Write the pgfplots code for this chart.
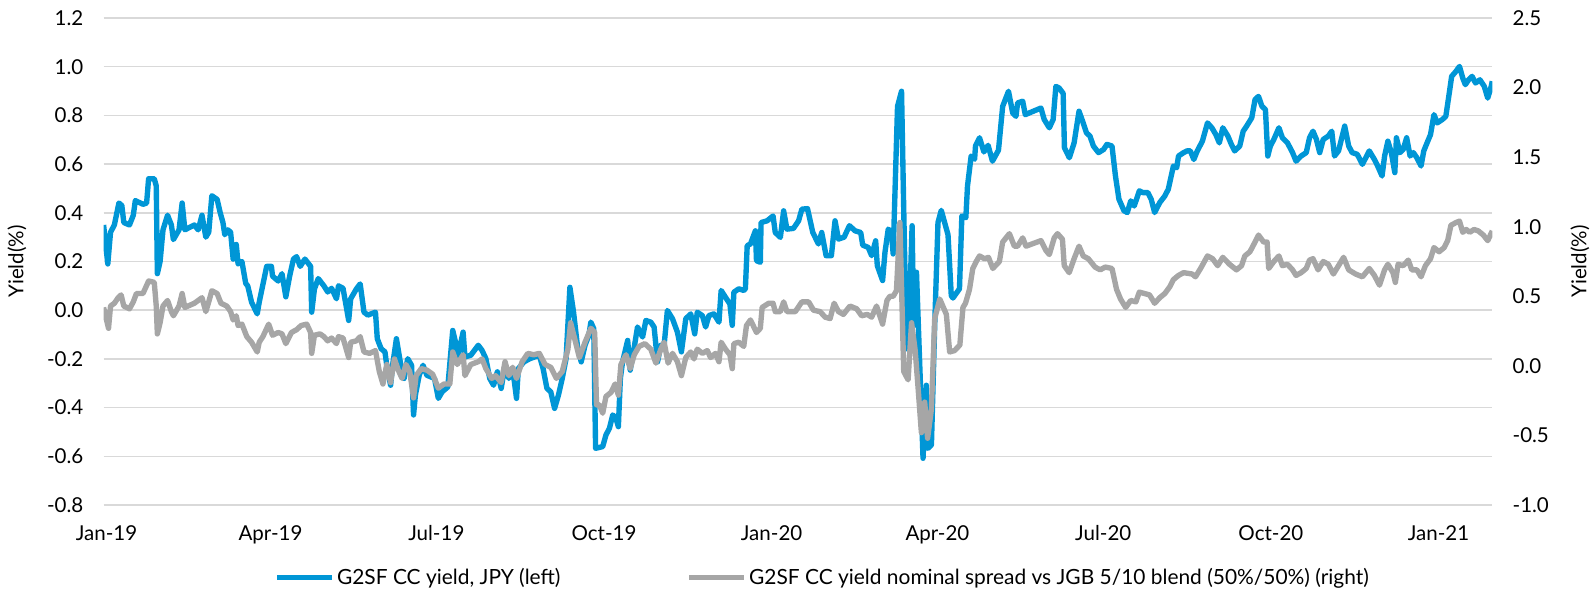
\documentclass[border=0pt]{standalone}
\usepackage{fontspec}
\setmainfont{Lato}
\usepackage{pgfplots}
\usepackage{pgfplotstable}
\pgfplotsset{compat=1.18}

\definecolor{g2blue}{RGB}{0,150,214}
\definecolor{g2gray}{RGB}{166,166,166}
\definecolor{gridgray}{RGB}{217,217,217}

% x = days since 1 Jan 2019
\pgfplotstableread{
day val
-1.6 0.35
0.7 0.19
2.2 0.32
4.3 0.35
6.8 0.44
8.4 0.43
9.5 0.36
12.6 0.35
14.7 0.39
15.8 0.45
20 0.435
22 0.44
23.1 0.54
26.2 0.54
27.3 0.51
27.9 0.15
29.4 0.20
31 0.33
33.5 0.39
35.6 0.35
36.7 0.29
39.8 0.33
41.5 0.44
43 0.33
48.2 0.35
50.3 0.33
52.4 0.39
54.5 0.30
56.1 0.32
57.8 0.47
60.7 0.455
62.4 0.40
63.9 0.36
64.9 0.31
66.6 0.33
68.1 0.32
69.5 0.21
71.2 0.27
72.2 0.19
74.3 0.20
76.4 0.11
77.5 0.10
79.6 0.033
82.7 -0.015
83.8 0.033
87.9 0.18
90.5 0.18
91.1 0.14
94.2 0.12
96.3 0.15
98.4 0.055
100.5 0.14
102.6 0.21
104.3 0.22
106.3 0.18
108.9 0.21
112 0.18
112.6 -0.008
114.1 0.087
116.2 0.13
119.3 0.10
121.4 0.075
123.5 0.09
126.2 0.047
127.3 0.10
129.8 0.09
132.9 -0.042
134 0.047
137.1 0.087
139.2 0.108
141.3 -0.008
143.4 -0.02
147.6 -0.008
148.6 -0.117
150.7 -0.158
152.8 -0.171
153.8 -0.226
155.9 -0.308
157 -0.226
159.1 -0.117
161.2 -0.212
163.3 -0.28
165.3 -0.199
167.4 -0.226
168.5 -0.43
169.5 -0.349
171.6 -0.267
173.7 -0.226
175.8 -0.267
180 -0.28
182.1 -0.362
184.2 -0.335
187.3 -0.315
190 -0.083
191.5 -0.13
192.5 -0.199
195.7 -0.09
196.7 -0.192
199.9 -0.185
204 -0.144
206.1 -0.165
208.2 -0.199
210.3 -0.28
212.4 -0.308
214.5 -0.253
216.6 -0.321
218.7 -0.226
220.8 -0.28
222.9 -0.24
225 -0.362
226 -0.24
229.1 -0.212
232.3 -0.199
237.5 -0.185
239.6 -0.24
241.7 -0.321
243.8 -0.335
245.9 -0.403
248 -0.349
250.1 -0.28
252.2 -0.199
254.3 0.094
256.3 -0.008
258.4 -0.144
260.5 -0.212
262.6 -0.144
264.7 -0.103
265.8 -0.049
267.4 -0.076
268.4 -0.567
272.3 -0.56
274.1 -0.512
276 -0.485
277.8 -0.43
279.6 -0.444
280.9 -0.478
282 -0.28
283.2 -0.212
286 -0.124
287.4 -0.246
289.2 -0.171
291.4 -0.069
294.2 -0.11
296 -0.042
298.7 -0.049
300.5 -0.069
302.4 -0.212
304.2 -0.144
306 -0.144
307.8 -0.001
310.6 -0.035
313.3 -0.09
315.5 -0.171
317.9 -0.035
320.6 -0.015
322.8 -0.097
324.2 -0.008
327 -0.022
328.8 -0.069
330.6 -0.022
333.3 -0.015
336.1 -0.049
337.3 0.081
339.7 0.053
342.1 0.026
343.4 -0.062
344.3 0.074
347 0.088
349.7 0.081
350.6 0.088
351.6 0.265
353.4 0.272
356.1 0.326
356.7 0.203
358.8 0.197
359.2 0.36
362.5 0.367
365.8 0.387
367 0.319
369.8 0.299
371.6 0.408
373.4 0.333
377 0.336
379.8 0.367
381.6 0.415
384.7 0.417
387.6 0.319
390.7 0.272
392.5 0.319
394.9 0.224
397.8 0.224
399.8 0.367
401.7 0.292
404.8 0.30
407.7 0.347
410.8 0.326
413.9 0.319
415 0.267
418 0.258
419.9 0.224
422.1 0.285
423 0.183
425.9 0.122
427.2 0.237
429 0.333
430.8 0.319
431.7 0.231
434.1 0.837
436.3 0.899
437.5 0.415
439 -0.158
440.5 -0.035
442.1 0.347
443 -0.062
444.5 0.156
448.1 -0.608
449.9 -0.308
450.8 -0.567
452.7 -0.553
454.5 -0.062
456.3 0.36
458.1 0.41
461.8 0.31
463.6 0.06
464.5 0.05
468.1 0.088
469.4 0.387
471.6 0.38
472.5 0.51
474.5 0.633
476.4 0.62
476.9 0.675
479.1 0.708
481.5 0.65
483.8 0.677
486.2 0.612
489.5 0.657
491.8 0.837
495 0.899
497.3 0.81
499.1 0.796
500 0.851
502.8 0.858
504.2 0.803
506.4 0.81
512.8 0.83
514.6 0.783
517.4 0.749
519.5 0.783
521 0.919
522.8 0.912
525 0.89
525.7 0.667
528.4 0.626
531 0.687
533.7 0.817
536 0.769
537.8 0.728
539.7 0.715
541.6 0.674
544.4 0.647
547.2 0.66
549 0.681
551.8 0.674
553.7 0.551
555.6 0.456
558.4 0.408
560.2 0.401
562.1 0.449
564 0.428
566.8 0.49
568.7 0.483
571.5 0.483
573.3 0.456
575.2 0.401
578 0.442
580.8 0.469
582.7 0.497
585.5 0.592
587.3 0.585
588.3 0.633
591.1 0.647
592.9 0.654
594.8 0.654
596.7 0.619
598.6 0.654
601.4 0.694
604.2 0.769
606.6 0.749
608.8 0.721
610.7 0.687
612.6 0.749
615.4 0.715
617.3 0.681
619.1 0.654
621.9 0.674
623.8 0.735
625.7 0.756
628.5 0.79
630.3 0.865
632.2 0.878
634.1 0.837
636 0.824
637.3 0.633
638.7 0.674
640.6 0.701
643.4 0.749
645.3 0.708
648.1 0.687
650.9 0.647
652.8 0.612
655.6 0.633
658.4 0.647
660.2 0.708
662.1 0.735
664 0.701
665.8 0.647
667.7 0.701
670.5 0.715
672.4 0.735
673.9 0.633
676.1 0.654
679.5 0.756
681.7 0.674
683.6 0.647
686.4 0.64
689.2 0.599
693 0.654
695.8 0.619
697.6 0.592
700 0.551
701.4 0.633
703.2 0.694
705.1 0.647
707 0.565
707.9 0.708
709.8 0.647
711.6 0.66
713.5 0.708
715.4 0.633
717.2 0.647
719.1 0.626
721.4 0.592
722.9 0.654
724.7 0.687
726.6 0.721
728.5 0.803
730.3 0.769
733.1 0.783
735 0.796
736.9 0.892
738.2 0.96
740.6 0.981
742.5 1.001
744.3 0.953
745.7 0.926
747.5 0.946
749.4 0.96
751.3 0.933
753.7 0.946
756.1 0.919
758 0.871
759.9 0.919
760.5 0.94
}\yielddata

\pgfplotstableread{
day val
-1.6 0.42
1.1 0.27
2.2 0.43
4.3 0.45
6.4 0.49
8 0.51
9.5 0.43
12.6 0.41
14.7 0.46
16.4 0.52
20 0.52
23.1 0.61
26.2 0.60
27.3 0.43
27.9 0.23
29.4 0.31
31 0.43
33.5 0.47
35.6 0.39
36.7 0.36
39.8 0.43
41.5 0.52
43 0.42
48.2 0.45
52.4 0.49
54.5 0.39
56.1 0.46
57.8 0.54
60.7 0.52
62.8 0.45
66 0.43
68.1 0.39
69.5 0.33
71.2 0.36
72.2 0.29
74.3 0.30
77 0.21
79.6 0.17
82.7 0.10
83.8 0.17
85.8 0.21
89 0.30
91.1 0.22
94.2 0.24
96.3 0.23
98.4 0.16
101.5 0.24
104.3 0.26
106.8 0.29
109.9 0.30
112 0.24
112.6 0.09
114.1 0.22
117.2 0.23
119.3 0.21
121.4 0.18
123.5 0.20
126.2 0.16
127.3 0.21
129.8 0.20
132.9 0.06
134 0.17
137.1 0.18
139.2 0.21
141.3 0.10
144.4 0.09
147.6 0.11
149.7 -0.04
151.7 -0.13
153.8 0.01
155.9 -0.12
158 0.05
160.1 -0.03
162.2 -0.09
164.3 0.01
166.4 -0.04
168.5 -0.23
169.9 -0.07
172.7 -0.02
175.8 -0.03
179 -0.06
182.1 -0.16
185.2 -0.13
188.4 -0.13
190 0.10
192.5 0.01
195.7 0.08
196.7 -0.07
199.9 0.01
204 0.03
206.1 0.05
208.2 -0.02
211.4 -0.09
213.5 -0.07
216.6 -0.12
218.7 0.03
220.8 -0.07
222.9 -0.01
225 -0.09
228.1 0.03
231.2 0.09
234.4 0.08
237.5 0.09
240.7 0.01
243.8 -0.01
246.9 -0.09
250.1 -0.04
253.2 0.12
254.7 0.31
257.4 0.17
259.5 0.06
262.6 0.17
265.8 0.27
267.9 0.24
268.9 -0.28
270.5 -0.28
272.3 -0.34
274.1 -0.22
276.9 -0.19
279.1 -0.13
280.9 -0.21
282.3 0.01
285.1 0.08
287.4 -0.02
289.6 0.08
292.3 0.14
295.4 0.16
298.7 0.12
301.5 0.02
304.2 0.12
306 0.17
308.2 0.02
310.6 0.09
313.3 0.03
315.5 -0.07
317.9 0.06
320.6 0.10
322.4 0.05
324.2 0.12
327 0.09
329.7 0.11
331.5 0.06
334.2 0.09
336.1 0.03
337.3 0.17
339.7 0.12
342.1 0.08
343.4 -0.02
344.3 0.16
347 0.17
349.7 0.14
351.2 0.29
353.4 0.33
356.7 0.24
358.8 0.27
359.8 0.42
363.4 0.45
365.8 0.45
367 0.39
369.8 0.39
371.6 0.46
373.4 0.39
378 0.39
381.6 0.46
385.3 0.46
388 0.40
391.6 0.39
394.4 0.35
397.1 0.34
399.3 0.45
401.7 0.39
404.4 0.37
408 0.43
411.7 0.41
414.4 0.36
417.5 0.37
419.9 0.35
422.6 0.43
425.9 0.30
428.3 0.47
429.9 0.50
431.7 0.50
433.5 0.54
435.4 1.03
437.5 -0.04
439.9 -0.10
441.8 0.31
443.8 0.11
445.4 -0.16
447.2 -0.48
449 -0.26
450.6 -0.52
452.7 -0.31
454.5 0.34
457.3 0.48
460.9 0.37
462.7 0.10
465.4 0.11
468.3 0.15
470 0.42
471.4 0.45
473.6 0.55
475.4 0.70
477.3 0.75
479.1 0.79
481.8 0.77
484 0.78
486.4 0.70
490 0.75
491.8 0.89
495.5 0.95
498.2 0.86
500 0.86
502.8 0.92
504.6 0.86
512.8 0.90
515.5 0.83
517.4 0.80
520.1 0.92
521.9 0.95
524.6 0.91
525.6 0.72
528.3 0.67
531 0.77
533.7 0.86
536 0.79
538.8 0.77
542.5 0.71
545.3 0.69
548.1 0.71
551.8 0.70
554.3 0.55
556.5 0.48
559.3 0.42
562.1 0.47
564.9 0.46
566.8 0.53
569.6 0.52
572.4 0.51
575.2 0.45
578 0.49
580.8 0.52
583.6 0.57
585.5 0.62
588.3 0.65
591.1 0.67
595.8 0.66
597.6 0.64
600.4 0.70
604.2 0.79
607 0.77
609.8 0.72
612.6 0.78
616.3 0.73
620.1 0.69
622.9 0.72
624.7 0.79
627.5 0.82
630.3 0.89
632.2 0.94
635 0.89
636.9 0.89
637.8 0.70
640.6 0.75
643.4 0.79
645.3 0.72
648.1 0.73
650.9 0.69
652.8 0.65
655.6 0.67
658.4 0.70
660.2 0.76
662.1 0.77
664.9 0.69
667.7 0.75
670.5 0.73
673.3 0.66
676.1 0.72
678.9 0.78
681.7 0.69
685.5 0.66
689.2 0.64
693 0.70
695.8 0.65
698.6 0.58
701.4 0.69
703.2 0.73
706 0.67
707.3 0.60
708.8 0.73
711.6 0.72
714.4 0.76
716.3 0.69
719.1 0.69
721.4 0.64
723.8 0.72
726.6 0.77
728.5 0.85
731.3 0.82
734.1 0.85
736 0.90
737.8 1.01
740.6 1.03
742.5 1.04
744.3 0.96
746.2 0.98
748.1 0.96
750.5 0.98
752.8 0.97
755.6 0.94
758 0.90
760.5 0.97
}\spreaddata

\begin{document}
\begin{tikzpicture}
\pgfplotsset{
  every axis/.append style={
    at={(0,0)}, anchor=south west,
    scale only axis, width=697pt, height=244.5pt,
    xmin=-1.6, xmax=760.5,
    axis line style={draw=none},
    major tick length=0pt,
    tick label style={font=\fontsize{10.3}{12}\selectfont, inner sep=0pt},
    label style={font=\fontsize{10.3}{12}\selectfont},
    /pgf/number format/.cd, fixed, fixed zerofill, precision=1, assume math mode=true,
  },
}
\begin{axis}[
  ymin=-0.8, ymax=1.2,
  xtick={0,90,181,273,365,456,547,639,731},
  xticklabels={Jan-19,Apr-19,Jul-19,Oct-19,Jan-20,Apr-20,Jul-20,Oct-20,Jan-21},
  xticklabel style={yshift=-10pt},
  ytick={-0.8,-0.6,-0.4,-0.2,0,0.2,0.4,0.6,0.8,1.0,1.2},
  yticklabel style={xshift=-10pt},
  ymajorgrids, grid style={gridgray, line width=0.85pt},
  ylabel={Yield(\%)},
  ylabel style={at={(axis description cs:-0.0624,0.5)}, anchor=center},
]
\addplot[g2blue, line width=2.7pt, line join=round] table[x=day, y=val] {\yielddata};
\end{axis}

\begin{axis}[
  ymin=-1, ymax=2.5,
  axis y line*=right, axis x line=none,
  ytick={-1,-0.5,0,0.5,1,1.5,2,2.5},
  yticklabel style={xshift=10pt},
  ylabel={Yield(\%)},
  ylabel style={at={(axis description cs:1.0631,0.5)}, anchor=center, rotate=0},
  legend style={at={(axis description cs:0.1227,-0.149)}, anchor=west,
    draw=none, fill=none, inner sep=0pt,
    font=\fontsize{10.5}{12}\selectfont,
    nodes={inner sep=1.25pt},
    /tikz/every even column/.append style={column sep=62pt}},
  legend columns=2,
  legend image code/.code={\draw[#1] (0pt,0pt) -- (27.5pt,0pt);},
]
\addlegendimage{g2blue, line width=2.7pt}
\addlegendentry{G2SF CC yield, JPY (left)}
\addplot[g2gray, line width=2.7pt, line join=round] table[x=day, y=val] {\spreaddata};
\addlegendentry{G2SF CC yield nominal spread vs JGB 5/10 blend (50\%/50\%) (right)}
\end{axis}
\path (-52pt,-41.5pt) rectangle (746pt,253.5pt);
\end{tikzpicture}
\end{document}
